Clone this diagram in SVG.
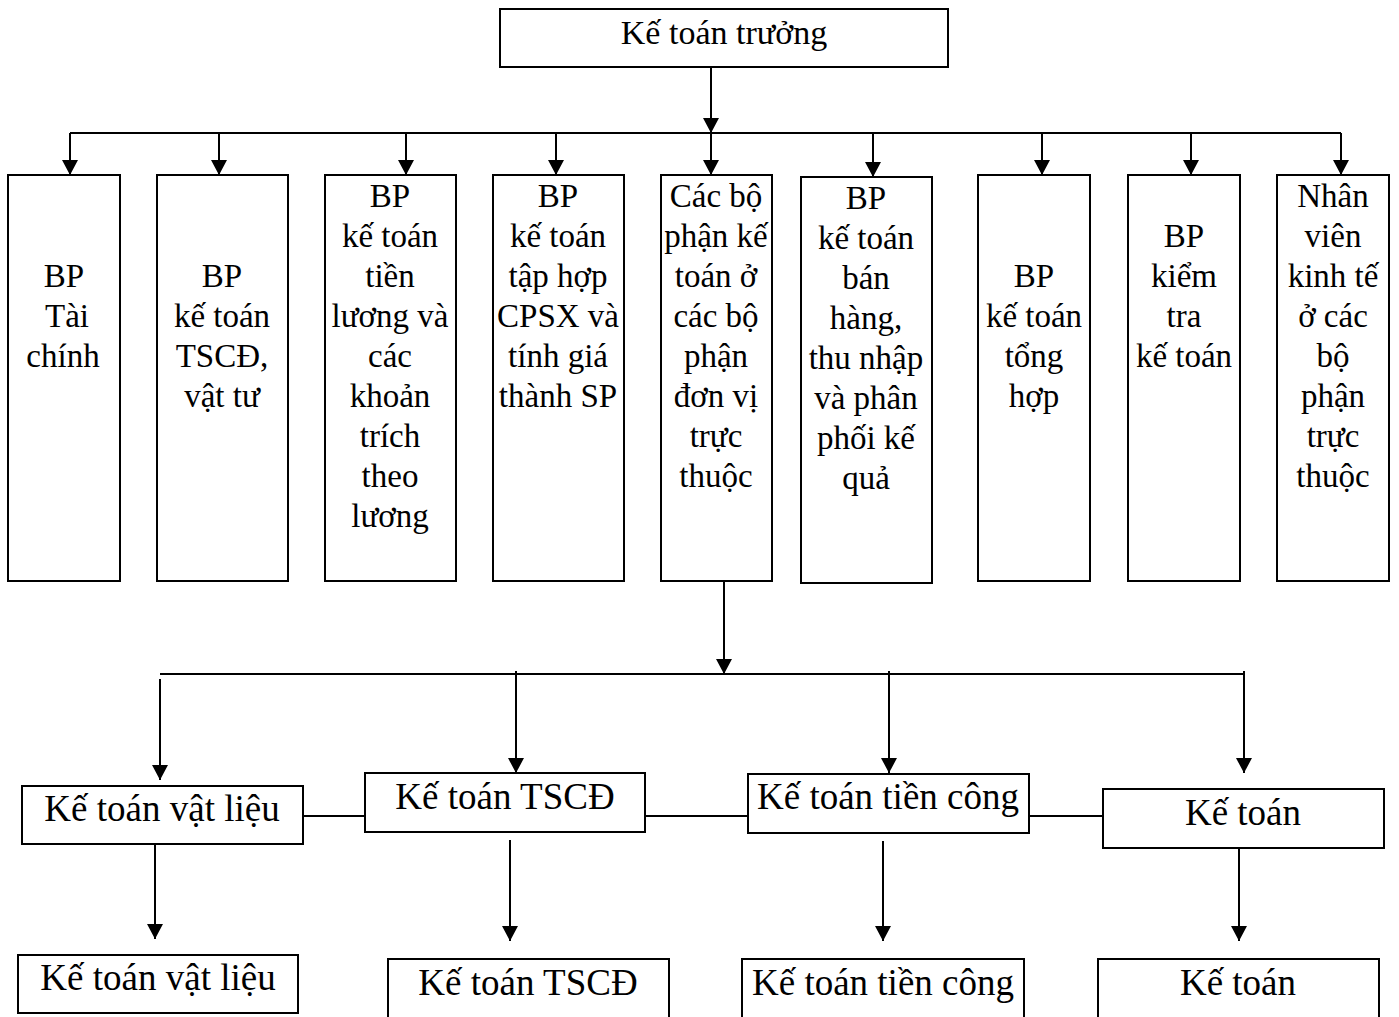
<svg xmlns="http://www.w3.org/2000/svg" width="1399" height="1017" viewBox="0 0 1399 1017">
<style>
.box{fill:#fff;stroke:#000;stroke-width:2}
.ln{fill:none;stroke:#000;stroke-width:2}
.arr{fill:none;stroke:#000;stroke-width:2;marker-end:url(#ah)}
text{font-family:"Liberation Serif","Times New Roman",serif;fill:#000;text-anchor:middle}
.t1{font-size:33px}
.t0{font-size:34px}
.t2{font-size:37px}
</style>
<defs>
<marker id="ah" viewBox="0 0 15 16" refX="15" refY="8" markerWidth="15" markerHeight="16" markerUnits="userSpaceOnUse" orient="auto">
<path d="M0,0 L15,8 L0,16 z" fill="#000"/>
</marker>
</defs>
<rect width="1399" height="1017" fill="#fff"/>
<g id="connectors">
<path class="arr" d="M711,67 V133"/>
<path class="ln" d="M70,133 H1341"/>
<path class="arr" d="M711,133 V175"/>
<path class="arr" d="M70,133 V175"/>
<path class="arr" d="M219,133 V175"/>
<path class="arr" d="M406,133 V175"/>
<path class="arr" d="M556,133 V175"/>
<path class="arr" d="M873,133 V177"/>
<path class="arr" d="M1042,133 V175"/>
<path class="arr" d="M1191,133 V175"/>
<path class="arr" d="M1341,133 V175"/>
<path class="arr" d="M724,581 V674"/>
<path class="ln" d="M160,674 H1244"/>
<path class="arr" d="M160,679 V780"/>
<path class="arr" d="M516,671 V773"/>
<path class="arr" d="M889,671 V773"/>
<path class="arr" d="M1244,671 V773"/>
<path class="ln" d="M303,816 H365 M645,816 H748 M1029,816 H1103"/>
<path class="arr" d="M155,844 V939"/>
<path class="arr" d="M510,840 V941"/>
<path class="arr" d="M883,841 V941"/>
<path class="arr" d="M1239,848 V941"/>
</g>
<g id="ke-toan-truong">
<rect class="box" x="500" y="9" width="448" height="58"/>
<text class="t0" x="724" y="44">Kế toán trưởng</text>
</g>
<g id="bp-tai-chinh">
<rect class="box" x="8" y="175" width="112" height="406"/>
<text class="t1" x="64"><tspan x="64" y="287">BP</tspan><tspan x="67" y="327">Tài</tspan><tspan x="63" y="367">chính</tspan></text>
</g>
<g id="bp-tscd-vat-tu">
<rect class="box" x="157" y="175" width="131" height="406"/>
<text class="t1" x="222"><tspan x="222" y="287">BP</tspan><tspan x="222" y="327">kế toán</tspan><tspan x="222" y="367">TSCĐ,</tspan><tspan x="222" y="407">vật tư</tspan></text>
</g>
<g id="bp-tien-luong">
<rect class="box" x="325" y="175" width="131" height="406"/>
<text class="t1" x="390"><tspan x="390" y="207">BP</tspan><tspan x="390" y="247">kế toán</tspan><tspan x="390" y="287">tiền</tspan><tspan x="390" y="327">lương và</tspan><tspan x="390" y="367">các</tspan><tspan x="390" y="407">khoản</tspan><tspan x="390" y="447">trích</tspan><tspan x="390" y="487">theo</tspan><tspan x="390" y="527">lương</tspan></text>
</g>
<g id="bp-cpsx">
<rect class="box" x="493" y="175" width="131" height="406"/>
<text class="t1" x="558"><tspan x="558" y="207">BP</tspan><tspan x="558" y="247">kế toán</tspan><tspan x="558" y="287">tập hợp</tspan><tspan x="558" y="327">CPSX và</tspan><tspan x="558" y="367">tính giá</tspan><tspan x="558" y="407">thành SP</tspan></text>
</g>
<g id="cac-bo-phan">
<rect class="box" x="661" y="175" width="111" height="406"/>
<text class="t1" x="716"><tspan x="716" y="207">Các bộ</tspan><tspan x="716" y="247">phận kế</tspan><tspan x="716" y="287">toán ở</tspan><tspan x="716" y="327">các bộ</tspan><tspan x="716" y="367">phận</tspan><tspan x="716" y="407">đơn vị</tspan><tspan x="716" y="447">trực</tspan><tspan x="716" y="487">thuộc</tspan></text>
</g>
<g id="bp-ban-hang">
<rect class="box" x="801" y="177" width="131" height="406"/>
<text class="t1" x="866"><tspan x="866" y="209">BP</tspan><tspan x="866" y="249">kế toán</tspan><tspan x="866" y="289">bán</tspan><tspan x="866" y="329">hàng,</tspan><tspan x="866" y="369">thu nhập</tspan><tspan x="866" y="409">và phân</tspan><tspan x="866" y="449">phối kế</tspan><tspan x="866" y="489">quả</tspan></text>
</g>
<g id="bp-tong-hop">
<rect class="box" x="978" y="175" width="112" height="406"/>
<text class="t1" x="1034"><tspan x="1034" y="287">BP</tspan><tspan x="1034" y="327">kế toán</tspan><tspan x="1034" y="367">tổng</tspan><tspan x="1034" y="407">hợp</tspan></text>
</g>
<g id="bp-kiem-tra">
<rect class="box" x="1128" y="175" width="112" height="406"/>
<text class="t1" x="1184"><tspan x="1184" y="247">BP</tspan><tspan x="1184" y="287">kiểm</tspan><tspan x="1184" y="327">tra</tspan><tspan x="1184" y="367">kế toán</tspan></text>
</g>
<g id="nhan-vien">
<rect class="box" x="1277" y="175" width="112" height="406"/>
<text class="t1" x="1333"><tspan x="1333" y="207">Nhân</tspan><tspan x="1333" y="247">viên</tspan><tspan x="1333" y="287">kinh tế</tspan><tspan x="1333" y="327">ở các</tspan><tspan x="1333" y="367">bộ</tspan><tspan x="1333" y="407">phận</tspan><tspan x="1333" y="447">trực</tspan><tspan x="1333" y="487">thuộc</tspan></text>
</g>
<g id="kt-vat-lieu-1">
<rect class="box" x="22" y="786" width="281" height="58"/>
<text class="t2" x="162" y="821">Kế toán vật liệu</text>
</g>
<g id="kt-tscd-1">
<rect class="box" x="365" y="773" width="280" height="59"/>
<text class="t2" x="505" y="809">Kế toán TSCĐ</text>
</g>
<g id="kt-tien-cong-1">
<rect class="box" x="748" y="774" width="281" height="59"/>
<text class="t2" x="888" y="809">Kế toán tiền công</text>
</g>
<g id="kt-1">
<rect class="box" x="1103" y="789" width="281" height="59"/>
<text class="t2" x="1243" y="825">Kế toán</text>
</g>
<g id="kt-vat-lieu-2">
<rect class="box" x="18" y="955" width="280" height="58"/>
<text class="t2" x="158" y="990">Kế toán vật liệu</text>
</g>
<g id="kt-tscd-2">
<rect class="box" x="388" y="959" width="281" height="64"/>
<text class="t2" x="528" y="995">Kế toán TSCĐ</text>
</g>
<g id="kt-tien-cong-2">
<rect class="box" x="742" y="959" width="282" height="64"/>
<text class="t2" x="883" y="995">Kế toán tiền công</text>
</g>
<g id="kt-2">
<rect class="box" x="1098" y="959" width="281" height="64"/>
<text class="t2" x="1238" y="995">Kế toán</text>
</g>
</svg>
